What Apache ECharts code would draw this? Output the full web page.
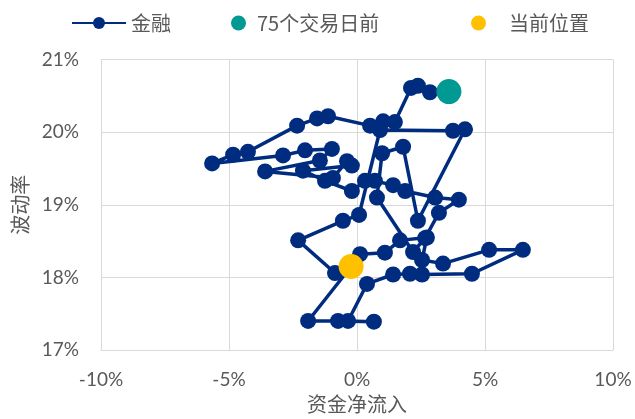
<!DOCTYPE html>
<html><head><meta charset="utf-8">
<script src="https://cdn.jsdelivr.net/npm/echarts@6/dist/echarts.min.js"></script>
<style>html,body{margin:0;padding:0;background:#fff}#c{width:635px;height:419px}</style>
</head><body><div id="c"></div>
<script>
// 资金净流入 (%) and 波动率 (%) for each trading day, oldest first
const flowX = [3.59,2.85,2.38,2.11,1.48,1.02,0.51,-1.13,-1.56,-2.34,-4.26,-4.84,-5.66,-2.89,-2.03,-0.98,-1.45,-3.59,-0.94,-0.39,-0.20,-2.11,-1.25,-0.20,0.31,0.70,1.41,1.88,3.05,3.98,3.20,2.66,2.19,0.78,0.98,1.80,2.38,4.22,3.75,0.90,0.08,-0.55,-2.30,-0.86,0.12,1.09,1.68,2.73,2.54,3.36,5.16,6.48,4.49,2.54,2.07,1.41,0.39,-0.35,0.66,-0.74,-1.91,-0.23];
const volY  = [20.56,20.55,20.64,20.61,20.14,20.15,20.09,20.22,20.19,20.09,19.73,19.69,19.57,19.68,19.75,19.77,19.61,19.46,19.37,19.60,19.54,19.47,19.33,19.19,19.33,19.33,19.27,19.19,19.10,19.07,18.89,18.54,18.35,19.10,19.71,19.80,18.78,20.04,20.02,20.03,18.86,18.78,18.51,18.06,18.32,18.34,18.51,18.55,18.24,18.19,18.38,18.38,18.05,18.04,18.05,18.04,17.91,17.40,17.39,17.40,17.40,18.15];
const startPoint = [3.59, 20.56];
const currentPoint = [-0.23, 18.15];
const xTicks = {min: -10, max: 10, interval: 5};
const yTicks = {min: 17, max: 21, interval: 1};
const names = ['金融', '75个交易日前', '当前位置'];

const pathData = flowX.map((x, i) => [x, volY[i]]);
const txt = '#595959';
const lab = {fontFamily: 'Lato, "Liberation Sans", sans-serif', fontSize: 19, color: txt};
const cjk = {fontFamily: '"Noto Sans CJK SC", sans-serif', fontSize: 20, color: txt};

const chart = echarts.init(document.getElementById('c'), null, {renderer: 'canvas'});
chart.setOption({
  animation: false,
  legend: [
    {data: [names[0]], left: 66, top: 8, itemWidth: 54, itemHeight: 15, textStyle: cjk},
    {data: [{name: names[1], icon: 'circle'}], left: 226, top: 8, itemWidth: 15, itemHeight: 15,
     textStyle: Object.assign({padding: [0, 0, 0, 6]}, cjk)},
    {data: [{name: names[2], icon: 'circle'}], left: 466, top: 8, itemWidth: 15, itemHeight: 15,
     textStyle: Object.assign({padding: [0, 0, 0, 18]}, cjk)}
  ],
  grid: {left: 101, right: 22, top: 59.6, bottom: 64.6},
  xAxis: {
    type: 'value', min: xTicks.min, max: xTicks.max, interval: xTicks.interval,
    name: '资金净流入', nameLocation: 'middle', nameGap: 44,
    nameTextStyle: {fontFamily: '"Noto Sans CJK SC", serif', fontSize: 20, color: txt},
    axisLine: {show: true, lineStyle: {color: '#d9d9d9', width: 1}},
    axisTick: {show: false},
    axisLabel: Object.assign({formatter: v => v + '%', margin: 20}, lab),
    splitLine: {show: true, lineStyle: {color: '#d9d9d9', width: 1}}
  },
  yAxis: {
    type: 'value', min: yTicks.min, max: yTicks.max, interval: yTicks.interval,
    name: '波动率', nameLocation: 'middle', nameGap: 70, nameRotate: 90,
    nameTextStyle: {fontFamily: '"Noto Sans CJK SC", serif', fontSize: 20, color: txt},
    axisLine: {show: false},
    axisTick: {show: false},
    axisLabel: Object.assign({formatter: v => v + '%', margin: 22}, lab),
    splitLine: {show: true, lineStyle: {color: '#d9d9d9', width: 1}}
  },
  series: [
    {name: names[0], type: 'line', data: pathData, symbol: 'circle', symbolSize: 16,
     showAllSymbol: true,
     lineStyle: {color: '#002C7F', width: 3.5}, itemStyle: {color: '#002C7F'}, z: 2},
    {name: names[1], type: 'scatter', data: [startPoint], symbolSize: 25,
     itemStyle: {color: '#009A93', opacity: 1}, z: 3},
    {name: names[2], type: 'scatter', data: [currentPoint], symbolSize: 25,
     itemStyle: {color: '#FFC000', opacity: 1}, z: 4}
  ]
});
</script></body></html>
